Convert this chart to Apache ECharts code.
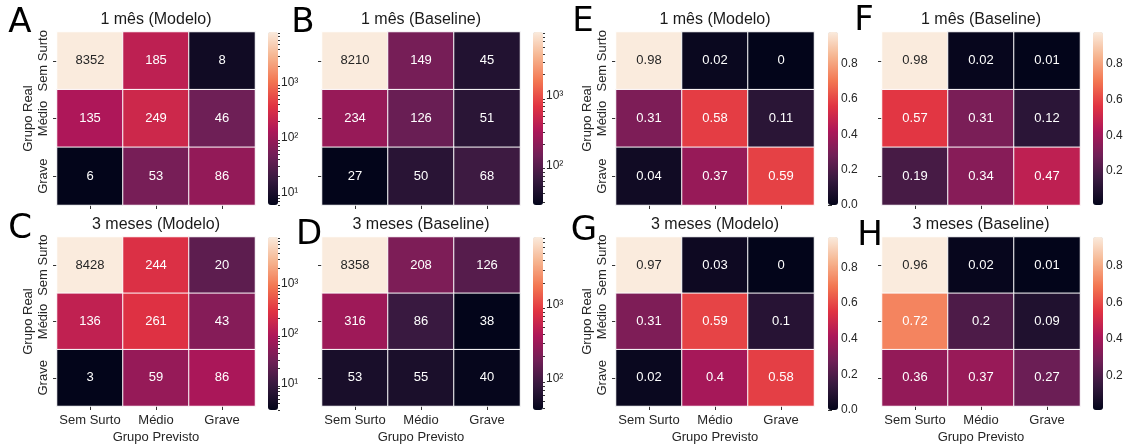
<!DOCTYPE html>
<html>
<head>
<meta charset="utf-8">
<script src="https://cdn.jsdelivr.net/npm/echarts@6/dist/echarts.min.js"></script>
<style>
  html, body { margin: 0; padding: 0; background: #fff; }
  #main { width: 1126px; height: 445px; }
</style>
</head>
<body>
<div id="main"></div>
<script>
// categories (rows = real, cols = predicted)
const groups = ["Sem Surto", "Médio", "Grave"];

// confusion matrices, counts
const countsMes1Modelo = [[8352, 185, 8], [135, 249, 46], [6, 53, 86]];
const countsMes1Baseline = [[8210, 149, 45], [234, 126, 51], [27, 50, 68]];
const countsMes3Modelo = [[8428, 244, 20], [136, 261, 43], [3, 59, 86]];
const countsMes3Baseline = [[8358, 208, 126], [316, 86, 38], [53, 55, 40]];

// confusion matrices, row-normalised
const normMes1Modelo = [[0.98, 0.02, 0], [0.31, 0.58, 0.11], [0.04, 0.37, 0.59]];
const normMes1Baseline = [[0.98, 0.02, 0.01], [0.57, 0.31, 0.12], [0.19, 0.34, 0.47]];
const normMes3Modelo = [[0.97, 0.03, 0], [0.31, 0.59, 0.1], [0.02, 0.4, 0.58]];
const normMes3Baseline = [[0.96, 0.02, 0.01], [0.72, 0.2, 0.09], [0.36, 0.37, 0.27]];

// colorbar tick labels
const logTicks = [1, 2, 3];
const logTickLabels = ["10¹", "10²", "10³"];
const normTicks = [0, 0.2, 0.4, 0.6, 0.8];

// seaborn "rocket"
const rocket = ["#03051a", "#35193e", "#701f57", "#ad1759", "#e13342", "#f37651", "#f6b48f", "#faebdd"];

const FONT = "Liberation Sans";
const TXT = "#262626";

const colX = [57, 322, 616, 882];
const cbX = [268, 533, 828, 1093];
const rowY = [32, 237];
const W = 198, H = 173;

const panels = [
  { letter: "A", lx: 20, ly: 23, title: "1 mês (Modelo)", m: countsMes1Modelo, log: true, col: 0, row: 0 },
  { letter: "B", lx: 303, ly: 23, title: "1 mês (Baseline)", m: countsMes1Baseline, log: true, col: 1, row: 0 },
  { letter: "C", lx: 20, ly: 229, title: "3 meses (Modelo)", m: countsMes3Modelo, log: true, col: 0, row: 1 },
  { letter: "D", lx: 309, ly: 235, title: "3 meses (Baseline)", m: countsMes3Baseline, log: true, col: 1, row: 1 },
  { letter: "E", lx: 583, ly: 22, title: "1 mês (Modelo)", m: normMes1Modelo, log: false, col: 2, row: 0 },
  { letter: "F", lx: 864, ly: 21, title: "1 mês (Baseline)", m: normMes1Baseline, log: false, col: 3, row: 0 },
  { letter: "G", lx: 584, ly: 231, title: "3 meses (Modelo)", m: normMes3Modelo, log: false, col: 2, row: 1 },
  { letter: "H", lx: 870, ly: 236, title: "3 meses (Baseline)", m: normMes3Baseline, log: false, col: 3, row: 1 },
];

const grid = [], xAxis = [], yAxis = [], series = [], visualMap = [], title = [], graphic = [];

panels.forEach((p, i) => {
  const left = colX[p.col], top = rowY[p.row];
  const firstCol = p.col === 0 || p.col === 2;
  const bottomRow = p.row === 1;
  const flat = p.m.flat();
  const tf = (v) => (p.log ? Math.log10(v) : v);
  const vmin = tf(Math.min(...flat)), vmax = tf(Math.max(...flat));

  title.push({
    text: p.title, left: left + W / 2, top: rowY[p.row] - 20, textAlign: "center", padding: 0,
    textStyle: { fontFamily: FONT, fontSize: 16, fontWeight: "normal", color: "#1a1a1a" },
  });
  graphic.push({
    type: "text", x: p.lx, y: p.ly,
    style: { text: p.letter, font: "34px 'DejaVu Sans'", fill: "#000", textAlign: "center", textVerticalAlign: "middle" },
  });

  // heatmap grid
  const gi = grid.length;
  grid.push({ left, top, width: W, height: H });
  const xi = xAxis.length;
  xAxis.push({
    type: "category", gridIndex: gi, data: groups, position: "bottom",
    axisLine: { show: false }, splitLine: { show: false },
    axisTick: { show: true, alignWithLabel: true, length: 4, lineStyle: { color: "#333" } },
    axisLabel: { show: bottomRow, interval: 0, margin: 8, fontFamily: FONT, fontSize: 13, color: TXT },
    name: bottomRow ? "Grupo Previsto" : "", nameLocation: "middle", nameGap: 25,
    nameTextStyle: { fontFamily: FONT, fontSize: 13, color: TXT },
  });
  const yi = yAxis.length;
  yAxis.push({
    type: "category", gridIndex: gi, data: groups, inverse: true,
    axisLine: { show: false }, splitLine: { show: false },
    axisTick: { show: true, alignWithLabel: true, length: 4, lineStyle: { color: "#333" } },
    axisLabel: { show: firstCol, interval: 0, rotate: 90, margin: 7, fontFamily: FONT, fontSize: 13, color: TXT },
    name: firstCol ? "Grupo Real" : "", nameLocation: "middle", nameRotate: 90, nameGap: 22,
    nameTextStyle: { fontFamily: FONT, fontSize: 13, color: TXT },
  });

  const data = [];
  p.m.forEach((rowVals, r) => rowVals.forEach((v, c) => {
    const frac = (tf(v) - vmin) / (vmax - vmin);
    data.push({ value: [c, r, tf(v), v], label: { color: frac > 0.8 ? TXT : "#ffffff" } });
  }));
  series.push({
    type: "heatmap", xAxisIndex: xi, yAxisIndex: yi, data,
    itemStyle: { borderColor: "#ffffff", borderWidth: 1 },
    label: { show: true, fontFamily: FONT, fontSize: 13, formatter: (q) => String(q.value[3]) },
    emphasis: { disabled: true },
  });
  visualMap.push({
    type: "continuous", seriesIndex: i, min: vmin, max: vmax, dimension: 2,
    inRange: { color: rocket }, calculable: false, hoverLink: false, text: ["", ""],
    left: cbX[p.col], top, itemWidth: 10, itemHeight: H, padding: 0, orient: "vertical",
  });

  // colorbar axis
  const cgi = grid.length;
  grid.push({ left: cbX[p.col], top, width: 10, height: H });
  xAxis.push({ type: "value", gridIndex: cgi, show: false, min: 0, max: 1 });
  const majors = p.log ? logTicks.filter((t) => t >= vmin && t <= vmax) : normTicks.filter((t) => t >= vmin && t <= vmax);
  yAxis.push({
    type: "value", gridIndex: cgi, min: vmin, max: vmax, position: "right",
    axisLine: { show: false }, splitLine: { show: false },
    axisTick: { show: true, customValues: majors, length: 4, lineStyle: { color: "#333" } },
    axisLabel: {
      show: true, customValues: majors, margin: 3, fontFamily: FONT, fontSize: 12, color: TXT,
      formatter: (v) => (p.log ? logTickLabels[logTicks.indexOf(Math.round(v))] : v.toFixed(1)),
    },
  });
  if (p.log) {
    const minors = [];
    for (let e = 0; e < 4; e++) for (let k = 2; k <= 9; k++) {
      const lv = Math.log10(k * Math.pow(10, e));
      if (lv >= vmin && lv <= vmax) minors.push(lv);
    }
    yAxis.push({
      type: "value", gridIndex: cgi, min: vmin, max: vmax, position: "right",
      axisLine: { show: false }, splitLine: { show: false },
      axisTick: { show: true, customValues: minors, length: 2, lineStyle: { color: "#333" } },
      axisLabel: { show: false },
    });
  }
});

const chart = echarts.init(document.getElementById("main"), null, { renderer: "canvas" });
chart.setOption({
  backgroundColor: "#ffffff",
  animation: false,
  title, grid, xAxis, yAxis, series, visualMap, graphic,
});
</script>
</body>
</html>
